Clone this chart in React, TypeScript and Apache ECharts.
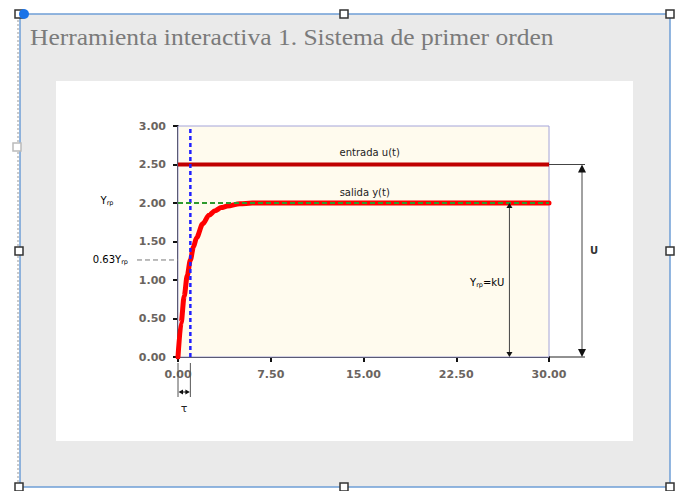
import { useEffect, useRef } from 'react';
import * as echarts from 'echarts';

// Time axis (s) and first-order step response y(t)
const xTicks = [0, 7.5, 15, 22.5, 30];
const yTicks = [0, 0.5, 1, 1.5, 2, 2.5, 3];
const tiempo = [0, 0.25, 0.5, 0.75, 1, 1.25, 1.5, 2, 2.5, 3, 3.5, 4, 5, 6, 8, 30];
const salida = [0, 0.44, 0.79, 1.06, 1.26, 1.43, 1.55, 1.73, 1.84, 1.9, 1.94, 1.96, 1.99, 2.0, 2.0, 2.0];
const entrada = 2.5;
const yrp = 2.0;
const tau = 1;
const tauLevel = 1.26;
const tMax = 30;

const FONT = 'DejaVu Sans';

export default function App() {
  const ref = useRef<HTMLDivElement>(null);

  useEffect(() => {
    if (!ref.current) return;
    const chart = echarts.init(ref.current, null, { renderer: 'svg' });

    chart.setOption({
      animation: false,
      grid: {
        left: 178,
        right: 132,
        top: 126,
        bottom: 134,
        show: true,
        backgroundColor: '#fffbee',
        borderColor: '#a4a4d8',
        borderWidth: 1,
        z: 1,
      },
      xAxis: {
        type: 'value',
        min: xTicks[0],
        max: xTicks[xTicks.length - 1],
        interval: 7.5,
        axisLine: { show: true, onZero: false, lineStyle: { color: '#111', width: 2 } },
        axisTick: { show: true, length: 5, lineStyle: { color: '#111', width: 2 } },
        splitLine: { show: false },
        axisLabel: {
          margin: 12,
          color: '#6a6460',
          fontFamily: FONT,
          fontWeight: 'bold',
          fontSize: 11,
          formatter: (v: number) => v.toFixed(2),
        },
      },
      yAxis: {
        type: 'value',
        min: yTicks[0],
        max: yTicks[yTicks.length - 1],
        interval: 0.5,
        axisLine: { show: true, onZero: false, lineStyle: { color: '#111', width: 2 } },
        axisTick: { show: true, length: 5, lineStyle: { color: '#111', width: 2 } },
        splitLine: { show: false },
        axisLabel: {
          margin: 12,
          color: '#6a6460',
          fontFamily: FONT,
          fontWeight: 'bold',
          fontSize: 11,
          formatter: (v: number) => v.toFixed(2),
        },
      },
      series: [
        {
          name: 'entrada u(t)',
          type: 'line',
          data: [[0, entrada], [tMax, entrada]],
          showSymbol: false,
          lineStyle: { color: '#c00000', width: 4 },
          z: 3,
        },
        {
          name: 'salida y(t)',
          type: 'line',
          data: tiempo.map((t, i) => [t, salida[i]]),
          showSymbol: false,
          smooth: 0.3,
          smoothMonotone: 'x',
          lineStyle: { color: '#ff0000', width: 5, cap: 'round' },
          z: 3,
        },
        {
          name: 'tau',
          type: 'line',
          data: [[tau, 0], [tau, 3]],
          showSymbol: false,
          lineStyle: { color: '#1f1fff', width: 2.5, type: [4, 3] },
          z: 4,
        },
        {
          name: 'yrp',
          type: 'line',
          data: [[0, yrp], [tMax, yrp]],
          showSymbol: false,
          lineStyle: { color: '#2d9a2d', width: 2, type: [5, 3] },
          z: 5,
        },
      ],
    });

    const p = (x: number, y: number) => chart.convertToPixel({ gridIndex: 0 }, [x, y]) as number[];
    const [x0, yBase] = p(0, 0);
    const [xEnd] = p(tMax, 3);
    const [, yU] = p(0, entrada);
    const [, yY] = p(0, yrp);
    const [xTau, yTau] = p(tau, tauLevel);
    const [xEnt, yEnt] = p(15.5, 2.66);
    const [xSal, ySal] = p(15.1, 2.14);
    const [xK] = p(26.8, 0);
    const xUarrow = xEnd + 33;

    const lineEl = (x1: number, y1: number, x2: number, y2: number, color = '#222', width = 1, dash?: number[]) => ({
      type: 'line',
      shape: { x1, y1, x2, y2 },
      style: { stroke: color, lineWidth: width, lineDash: dash },
      z: 20,
    });
    const tri = (pts: number[][], color = '#111') => ({
      type: 'polygon',
      shape: { points: pts },
      style: { fill: color },
      z: 20,
    });
    const handle = (cx: number, cy: number, stroke = '#333') => ({
      type: 'rect',
      shape: { x: cx - 4, y: cy - 4, width: 8, height: 8 },
      style: { fill: '#fff', stroke, lineWidth: 1.5 },
      z: 30,
    });
    const sub = {
      m: { fontFamily: FONT, fontSize: 10, color: '#2a2a2a' },
      s: { fontFamily: FONT, fontSize: 6.5, color: '#2a2a2a', padding: [5, 0, 0, 0] },
    };

    chart.setOption({
      graphic: [
        // frame and panel
        { type: 'rect', shape: { x: 20, y: 14, width: 650, height: 473 }, style: { fill: '#eaeaea', stroke: '#6f9fd6', lineWidth: 1.5 }, z: -20 },
        { type: 'rect', shape: { x: 56, y: 81, width: 577, height: 360 }, style: { fill: '#ffffff' }, z: -10 },
        lineEl(18, 16, 18, 485, '#aaaaaa', 1.2, [2, 2]),
        {
          type: 'text',
          x: 30,
          y: 37,
          scaleX: 1.11,
          style: {
            text: 'Herramienta interactiva 1. Sistema de primer orden',
            fontFamily: 'Liberation Serif',
            fontSize: 23,
            fill: '#7b7b7b',
            verticalAlign: 'middle',
          },
          z: 20,
        },
        handle(19, 14), handle(344, 14), handle(670, 14),
        handle(19, 251), handle(670, 251),
        handle(19, 487), handle(344, 487), handle(670, 487),
        handle(17, 147, '#bbbbbb'),
        { type: 'circle', shape: { cx: 24, cy: 14, r: 5 }, style: { fill: '#1a73e8' }, z: 31 },

        // series captions
        { type: 'text', x: xEnt, y: yEnt, style: { text: 'entrada u(t)', fontFamily: FONT, fontSize: 10, fill: '#222', align: 'center', verticalAlign: 'middle' }, z: 20 },
        { type: 'text', x: xSal, y: ySal, style: { text: 'salida y(t)', fontFamily: FONT, fontSize: 10, fill: '#222', align: 'center', verticalAlign: 'middle' }, z: 20 },

        // y_rp and 0.63 y_rp markers on the left
        { type: 'text', x: 107, y: yY - 3, style: { text: '{m|Y}{s|rp}', rich: sub, align: 'center', verticalAlign: 'middle' }, z: 20 },
        { type: 'text', x: 128, y: yTau, style: { text: '{m|0.63Y}{s|rp}', rich: sub, align: 'right', verticalAlign: 'middle' }, z: 20 },
        lineEl(137, yTau, x0, yTau, '#777', 1, [5, 3]),

        // tau span below the axis
        lineEl(x0, yBase + 6, x0, yBase + 40, '#555', 1),
        lineEl(xTau, yBase + 6, xTau, yBase + 40, '#555', 1),
        lineEl(x0 + 4, yBase + 35, xTau - 4, yBase + 35, '#111', 1),
        tri([[x0 + 0.5, yBase + 35], [x0 + 5, yBase + 32.5], [x0 + 5, yBase + 37.5]]),
        tri([[xTau - 0.5, yBase + 35], [xTau - 5, yBase + 32.5], [xTau - 5, yBase + 37.5]]),
        { type: 'text', x: (x0 + xTau) / 2, y: yBase + 51, style: { text: 'τ', fontFamily: FONT, fontSize: 11, fill: '#222', align: 'center', verticalAlign: 'middle' }, z: 20 },

        // U span on the right
        lineEl(xEnd, yU, xUarrow + 3, yU, '#444', 1),
        lineEl(xEnd, yBase, xUarrow + 3, yBase, '#222', 1),
        lineEl(xUarrow, yU + 6, xUarrow, yBase - 6, '#444', 1),
        tri([[xUarrow, yU], [xUarrow - 4, yU + 8], [xUarrow + 4, yU + 8]]),
        tri([[xUarrow, yBase], [xUarrow - 4, yBase - 8], [xUarrow + 4, yBase - 8]]),
        { type: 'text', x: xUarrow + 12, y: (yU + yBase) / 2 - 10, style: { text: 'U', fontFamily: FONT, fontSize: 10, fontWeight: 'bold', fill: '#333', align: 'center', verticalAlign: 'middle' }, z: 20 },

        // Y_rp = kU span
        lineEl(xK, yY + 4, xK, yBase - 4, '#444', 1),
        tri([[xK, yY], [xK - 3, yY + 5], [xK + 3, yY + 5]]),
        tri([[xK, yBase], [xK - 3, yBase - 5], [xK + 3, yBase - 5]]),
        { type: 'text', x: xK - 5, y: (yY + yBase) / 2 + 2, style: { text: '{m|Y}{s|rp}{m|=kU}', rich: sub, align: 'right', verticalAlign: 'middle' }, z: 20 },
      ],
    });

    return () => chart.dispose();
  }, []);

  return (
    <div
      ref={ref}
      style={{ position: 'fixed', left: 0, top: 0, width: 681, height: 491, background: '#ffffff' }}
    />
  );
}
